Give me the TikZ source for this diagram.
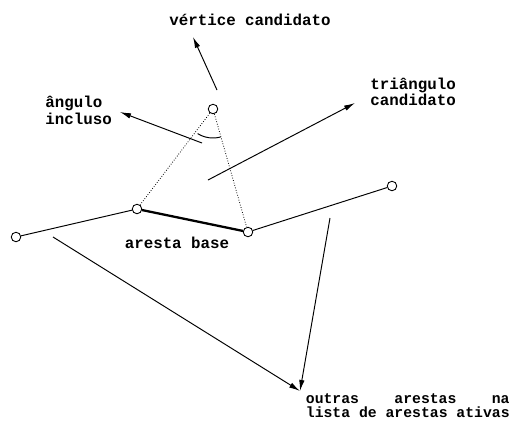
\documentclass[tikz,border=0pt]{standalone}
\usepackage{fontspec}
\setmonofont{Liberation Mono}
\usetikzlibrary{arrows.meta}
\begin{document}
\begin{tikzpicture}[
  vert/.style={circle,draw,fill=white,inner sep=0pt,minimum size=0.19cm,line width=0.5pt},
  aresta/.style={line width=0.55pt},
  arestabase/.style={line width=1.3pt},
  diag/.style={densely dotted,line width=0.45pt},
  pointer/.style={-{Latex[length=2.2mm,width=1.1mm]},line width=0.55pt},
  rotulo/.style={font=\ttfamily\bfseries\fontsize{9}{8.2}\selectfont,inner sep=0pt,align=left}
]
  \useasboundingbox (0,0) rectangle (10.24,8.56);

  % vertices
  \node[vert] (V) at (4.26,6.38) {};
  \node[vert] (A) at (2.74,4.38) {};
  \node[vert] (B) at (4.96,3.92) {};
  \node[vert] (L) at (0.32,3.82) {};
  \node[vert] (R) at (7.84,4.84) {};

  % labels
  \node[rotulo] (vcand) at (5.0,8.16) {vértice candidato};
  \node[rotulo,anchor=west] (angulo) at (0.90,6.35) {ângulo\\incluso};
  \node[rotulo,anchor=west] (tcand) at (7.40,6.72) {triângulo\\candidato};
  \node[rotulo] (abase) at (3.54,3.70) {aresta base};
  \node[rotulo,anchor=east,font=\ttfamily\bfseries\fontsize{8.4}{8.2}\selectfont] (outras) at (10.20,0.45)
    {\makebox[13.8em][s]{outras\hfill arestas\hfill na}\\lista de arestas ativas};

  % pointer ends
  \coordinate (pv1) at (4.34,6.76);
  \coordinate (pv2) at (3.86,7.82);
  \coordinate (pa1) at (4.04,5.70);
  \coordinate (pa2) at (2.40,6.32);
  \coordinate (pt1) at (4.16,4.96);
  \coordinate (pt2) at (7.10,6.50);
  \coordinate (pl1) at (1.06,3.82);
  \coordinate (pr1) at (6.60,4.20);
  \coordinate (po) at (6.00,0.74);

  % edges
  \draw[aresta] (L) -- (A);
  \draw[arestabase] (A) -- (B);
  \draw[aresta] (B) -- (R);
  \draw[diag] (V) -- (A);
  \draw[diag] (V) -- (B);
  \draw[aresta] ([shift={(238:0.58)}]V.center) arc[start angle=238,end angle=285,radius=0.58];

  % pointers
  \draw[pointer] (pv1) -- (pv2);
  \draw[pointer] (pa1) -- (pa2);
  \draw[pointer] (pt1) -- (pt2);
  \draw[pointer] (pl1) -- (po);
  \draw[pointer] (pr1) -- (po);
\end{tikzpicture}
\end{document}
